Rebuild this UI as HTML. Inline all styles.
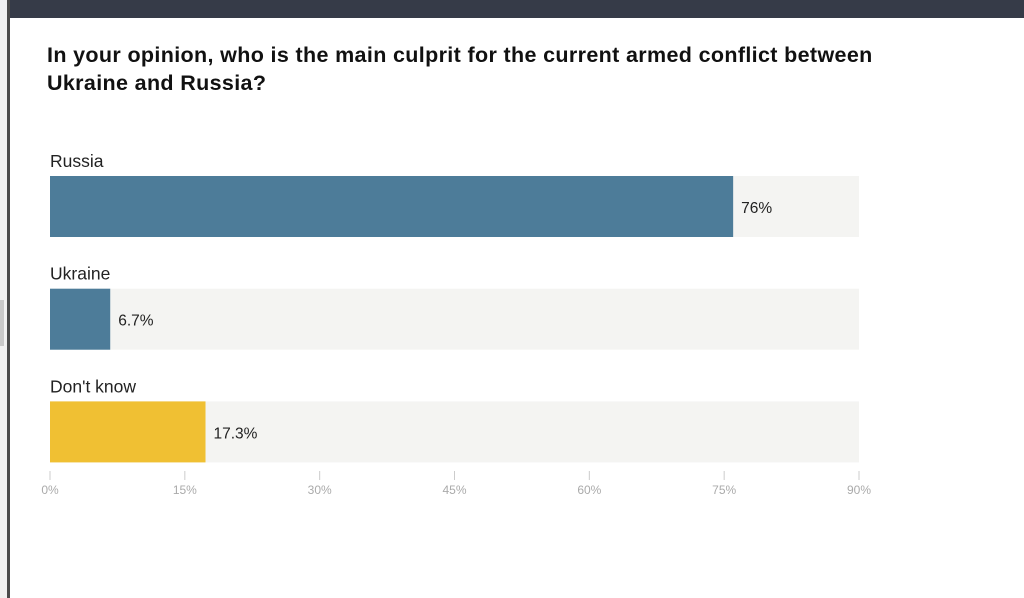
<!DOCTYPE html>
<html><head><meta charset="utf-8"><style>
body{margin:0;width:1024px;height:598px;background:#fff;position:relative;overflow:hidden;font-family:"Liberation Sans",sans-serif}
#lg{position:absolute;left:0;top:0;width:7px;height:598px;background:#f0f0f0}
#lgb{position:absolute;left:0;top:300px;width:4px;height:46px;background:#c8c8c8}
#lb{position:absolute;left:7px;top:0;width:3px;height:598px;background:#4a4a4a}
#top{position:absolute;left:10px;top:0;width:1014px;height:18px;background:#363b48}
h1{position:absolute;left:47px;top:41px;margin:0;font-size:21.5px;line-height:28px;font-weight:bold;color:#111;width:890px;letter-spacing:0.35px}
</style></head><body>
<div id="lg"></div>
<div id="lgb"></div>
<div id="lb"></div>
<div id="top"></div>
<h1>In your opinion, who is the main culprit for the current armed conflict between<br>Ukraine and Russia?</h1>
<svg id="c" width="1024" height="598" style="position:absolute;left:0;top:0"></svg>
<script>
const categories=["Russia","Ukraine","Don't know"];
const values=[76,6.7,17.3];
const labels=["76%","6.7%","17.3%"];
const colors=["#4d7c99","#4d7c99","#f0c033"];
const ticks=[0,15,30,45,60,75,90];
const NS="http://www.w3.org/2000/svg",svg=document.getElementById('c');
const x=v=>50+v*(809/90);
const rowY=i=>176+i*112.7;
function mk(t,a){const e=document.createElementNS(NS,t);for(const k in a)e.setAttribute(k,a[k]);svg.appendChild(e);return e;}
categories.forEach((c,i)=>{
  const y=rowY(i);
  const bg=mk('rect',{x:x(0),y:y,width:x(90)-x(0),height:61,fill:'#f4f4f2'});
  
  
  const r=mk('rect',{x:x(0),y:y,width:x(values[i])-x(0),height:61,fill:colors[i]});
  
  
  const l=mk('text',{x:50,y:y-9,'font-size':'17.5',fill:'#222'});l.textContent=c;
  
  
  const v=mk('text',{x:x(values[i])+8,y:y+37,'font-size':'15.5',fill:'#222'});v.textContent=labels[i];
  
  
});
ticks.forEach(t=>{
  const ln=mk('line',{x1:x(t),x2:x(t),y1:471,y2:480,stroke:'#ccc','stroke-width':1});
  
  
  const tx=mk('text',{x:x(t),y:494,'font-size':'12',fill:'#aaa','text-anchor':'middle'});tx.textContent=t+'%';
  
  
});
</script>
</body></html>
